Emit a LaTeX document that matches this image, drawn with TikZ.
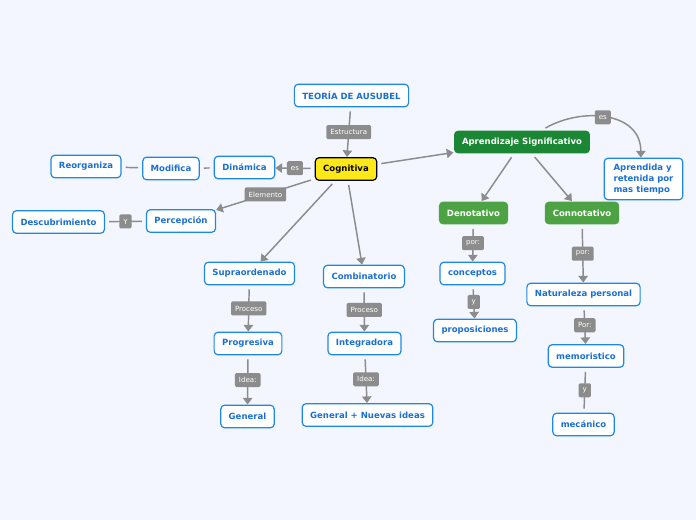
\documentclass[tikz,border=0pt]{standalone}
\usepackage{fontspec}
\setmainfont{DejaVu Sans}
\usetikzlibrary{arrows.meta}
\definecolor{mapBg}{HTML}{F3F6FE}
\definecolor{mapBlue}{HTML}{1E88E5}
\definecolor{mapText}{HTML}{1A6FD6}
\definecolor{mapGrey}{HTML}{8C8C8C}
\definecolor{mapYellow}{HTML}{FFE81A}
\definecolor{mapDark}{HTML}{1B8734}
\definecolor{mapGreen}{HTML}{4DA343}

\tikzset{
  concept/.style={draw=mapBlue, fill=white, line width=0.9pt, rounded corners=3pt, text=mapText,
    font=\fontsize{6.4}{8}\selectfont\bfseries, minimum height=17pt, inner xsep=6pt},
  hub/.style={concept, draw=black, fill=mapYellow, text=black},
  seed/.style={concept, draw=none, fill=mapDark, text=white},
  branch/.style={concept, draw=none, fill=mapGreen, text=white},
  word/.style={fill=mapGrey, text=white, rounded corners=1pt, font=\fontsize{5.3}{6}\selectfont,
    inner xsep=3pt, inner ysep=0pt, minimum height=10.5pt},
  link/.style={draw=mapGrey, line width=1.1pt, shorten <=3pt, -{Triangle[width=7pt,length=5pt]}},
  tie/.style={draw=mapGrey, line width=1.1pt, shorten <=3pt, shorten >=3pt}
}

\begin{document}
\begin{tikzpicture}[x=0.75pt, y=-0.75pt]
\fill[mapBg] (0,0) rectangle (696,520);


\node[concept] (teoria) at (351.5,95.5) {TEORÍA DE AUSUBEL};
\node[hub] (cognitiva) at (346,169) {Cognitiva};
\node[seed] (aprendizaje) at (522,142) {Aprendizaje Significativo};
\node[concept, align=left, minimum width=59pt, inner ysep=4.5pt] (aprendida) at (643.5,179) {Aprendida y\\retenida por\\mas tiempo};


\node[concept] (dinamica) at (244.5,167.5) {Dinámica};
\node[concept] (modifica) at (171,168.5) {Modifica};
\node[concept] (reorganiza) at (86,166.5) {Reorganiza};
\node[concept] (percepcion) at (181,221) {Percepción};
\node[concept] (descubrimiento) at (58.5,222) {Descubrimiento};


\node[concept] (supra) at (249.5,273.5) {Supraordenado};
\node[concept] (progresiva) at (248,343.5) {Progresiva};
\node[concept] (general) at (247.5,416.5) {General};
\node[concept] (combina) at (364,276.5) {Combinatorio};
\node[concept] (integra) at (364.5,343.5) {Integradora};
\node[concept] (nuevas) at (367.5,415) {General + Nuevas ideas};


\node[branch] (denota) at (473.5,213) {Denotativo};
\node[branch] (connota) at (582,213) {Connotativo};
\node[concept] (conceptos) at (472.5,273.5) {conceptos};
\node[concept] (proposiciones) at (475,330.5) {proposiciones};
\node[concept] (naturaleza) at (583.5,294.5) {Naturaleza personal};
\node[concept] (memoristico) at (586,356) {memoristico};
\node[concept] (mecanico) at (583.5,424.5) {mecánico};


\draw[link] (teoria) -- node[word] {Estructura} (cognitiva);
\draw[link] (cognitiva) -- node[word] {es} (dinamica);
\draw[tie] (dinamica) -- (modifica);
\draw[tie] (modifica) -- (reorganiza);
\draw[link] (cognitiva) -- node[word] {Elemento} (percepcion);
\draw[tie] (percepcion) -- node[word] {Y} (descubrimiento);
\draw[link] (cognitiva) -- (supra);
\draw[link] (cognitiva) -- (combina);
\draw[link] (cognitiva) -- (aprendizaje);

\draw[link] (supra) -- node[word] {Proceso} (progresiva);
\draw[link] (progresiva) -- node[word] {Idea:} (general);
\draw[link] (combina) -- node[word] {Proceso} (integra);
\draw[link] (integra) -- node[word] {Idea:} (nuevas);

\draw[link] ([xshift=15pt]aprendizaje.north) to[out=30, in=90, looseness=1.15] node[word, pos=0.47] {es} ([xshift=-2pt]aprendida.north);
\draw[link] (aprendizaje) -- (denota);
\draw[link] (aprendizaje) -- (connota);
\draw[link] (denota) -- node[word] {por:} (conceptos);
\draw[link] (conceptos) -- node[word] {y} (proposiciones);
\draw[link] (connota) -- node[word] {por:} (naturaleza);
\draw[link] (naturaleza) -- node[word] {Por:} (memoristico);
\draw[tie] (memoristico) -- node[word] {y} (mecanico);
\end{tikzpicture}
\end{document}
